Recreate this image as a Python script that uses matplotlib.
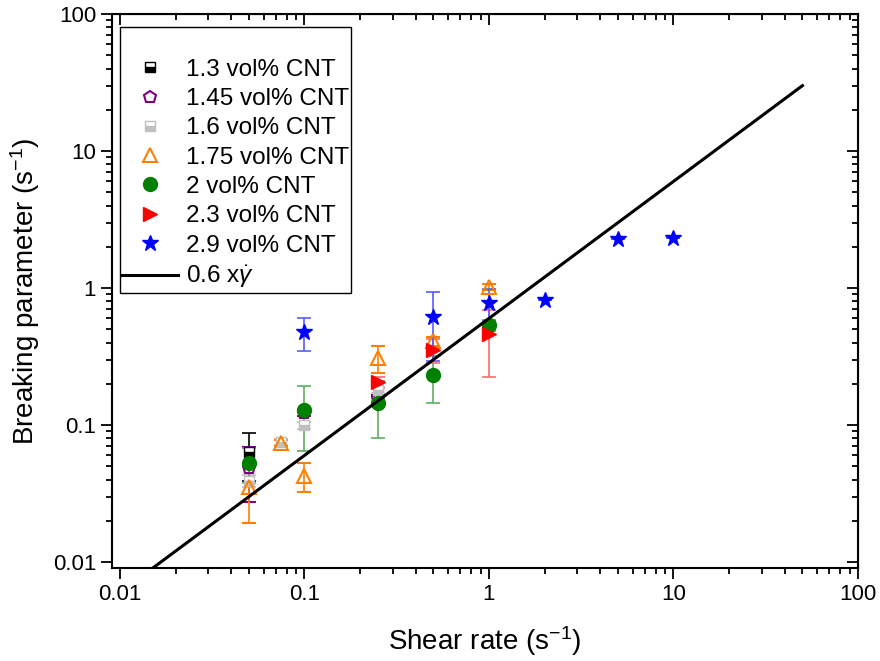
import matplotlib.pyplot as plt
from matplotlib.lines import Line2D
import numpy as np

plt.rcParams['font.family'] = ['Liberation Sans', 'DejaVu Sans']
plt.rcParams['mathtext.fontset'] = 'custom'
plt.rcParams['mathtext.rm'] = 'Liberation Sans'
plt.rcParams['mathtext.it'] = 'Liberation Sans:italic'

## data (shear rate, breaking parameter, error)
x_13 = [0.05]
y_13 = [0.063]
e_13 = [0.024]

x_145 = [0.05, 0.1, 0.25]
y_145 = [0.0485, 0.122, 0.155]
e_145 = [0.021, 0.005, 0.01]

x_16 = [0.05, 0.075, 0.1, 0.25]
y_16 = [0.039, 0.075, 0.1, 0.18]
e_16 = [0.004, 0.004, 0.006, 0.01]

x_175 = [0.05, 0.075, 0.1, 0.25, 0.5, 1]
y_175 = [0.035, 0.074, 0.0425, 0.31, 0.41, 1.02]
e_175 = [0.0156, 0.004, 0.01, 0.07, 0.03, 0.05]

x_2 = [0.05, 0.1, 0.25, 0.5, 1]
y_2 = [0.053, 0.128, 0.145, 0.232, 0.537]
e_2 = [0.015, 0.063, 0.064, 0.087, 0.05]

x_23 = [0.25, 0.5, 1]
y_23 = [0.205, 0.352, 0.46]
e_23 = [0.02, 0.07, 0.236]

x_29 = [0.1, 0.5, 1, 2, 5, 10]
y_29 = [0.477, 0.614, 0.777, 0.817, 2.28, 2.32]
e_29 = [0.13, 0.32, 0.2, 0, 0, 0]

slope = 0.6
fit_x = np.array([0.015, 50])
fit_label = '0.6 x$\\dot{\\gamma}$'

fig = plt.figure(figsize=(8.8, 6.61), dpi=100)
ax = fig.add_axes([112/880, 1-568/661, 746/880, 554/661])

series = [
    (x_13, y_13, e_13, '1.3 vol% CNT', dict(marker='s', color='black', mfc='black', mfcalt='white', fillstyle='bottom', mec='black'), 'black'),
    (x_145, y_145, e_145, '1.45 vol% CNT', dict(marker='p', color='#800080', mfc='none', mec='#800080', mew=1.5), '#800080'),
    (x_16, y_16, e_16, '1.6 vol% CNT', dict(marker='s', color='#c0c0c0', mfc='#c0c0c0', mfcalt='white', fillstyle='bottom', mec='#c0c0c0'), '#c0c0c0'),
    (x_175, y_175, e_175, '1.75 vol% CNT', dict(marker='^', color='#ff8000', mfc='none', mec='#ff8000', mew=1.5), '#ff8000'),
    (x_2, y_2, e_2, '2 vol% CNT', dict(marker='o', color='#008000', mfc='#008000', mec='#008000'), '#5fae5f'),
    (x_23, y_23, e_23, '2.3 vol% CNT', dict(marker='>', color='red', mfc='red', mec='red'), '#ff6a6a'),
    (x_29, y_29, e_29, '2.9 vol% CNT', dict(marker='*', color='blue', mfc='blue', mec='blue'), '#5a5aff'),
]

sizes = {'s': 7, 'p': 9, '^': 10, 'o': 10, '>': 10, '*': 12}
handles = []
for xs, ys, es, lab, st, ec in series:
    ax.errorbar(xs, ys, yerr=es, ls='none', ms=sizes[st['marker']], ecolor=ec,
                elinewidth=1.2, capsize=5, capthick=1.2, **st)
    handles.append(Line2D([], [], ls='none', ms=sizes[st['marker']], label=lab, **st))

ax.plot(fit_x, slope*fit_x, color='black', lw=2.2, zorder=5)
handles.append(Line2D([], [], color='black', lw=2.2, label=fit_label))

ax.set_xscale('log')
ax.set_yscale('log')
ax.set_xlim(0.00905, 100)
ax.set_ylim(0.00904, 100)
ax.set_xticks([0.01, 0.1, 1, 10, 100])
ax.set_xticklabels(['0.01', '0.1', '1', '10', '100'])
ax.set_yticks([0.01, 0.1, 1, 10, 100])
ax.set_yticklabels(['0.01', '0.1', '1', '10', '100'])

ax.tick_params(which='both', direction='out', labelsize=16, width=1.3)
ax.tick_params(which='major', length=8)
ax.tick_params(which='minor', length=4)
for s in ax.spines.values():
    s.set_linewidth(1.5)

# mirrored ticks on top/right pointing inward
secx = ax.secondary_xaxis('top')
secx.tick_params(which='both', direction='in', labeltop=False, width=1.3)
secx.tick_params(which='major', length=8)
secx.tick_params(which='minor', length=4)
secx.set_xticks([0.01, 0.1, 1, 10, 100])
secx.set_xticklabels([])
secy = ax.secondary_yaxis('right')
secy.tick_params(which='both', direction='in', labelright=False, width=1.3)
secy.tick_params(which='major', length=8)
secy.tick_params(which='minor', length=4)
secy.set_yticks([0.01, 0.1, 1, 10, 100])
secy.set_yticklabels([])

ax.set_xlabel('Shear rate (s$^{\\mathregular{-1}}$)', fontsize=20, labelpad=14)
ax.set_ylabel('Breaking parameter (s$^{\\mathregular{-1}}$)', fontsize=20, labelpad=8)

leg = ax.legend(handles=handles, loc='upper left', bbox_to_anchor=(0.0107, 0.9765),
                borderaxespad=0, fontsize=17.5, title=' ', title_fontsize=17.5,
                fancybox=False, edgecolor='black', framealpha=1, borderpad=0.1,
                labelspacing=0.3, handlelength=2.3, handletextpad=0.3)
leg.get_frame().set_linewidth(1.0)
leg.set_zorder(10)

fig.savefig('out.png', dpi=100)
